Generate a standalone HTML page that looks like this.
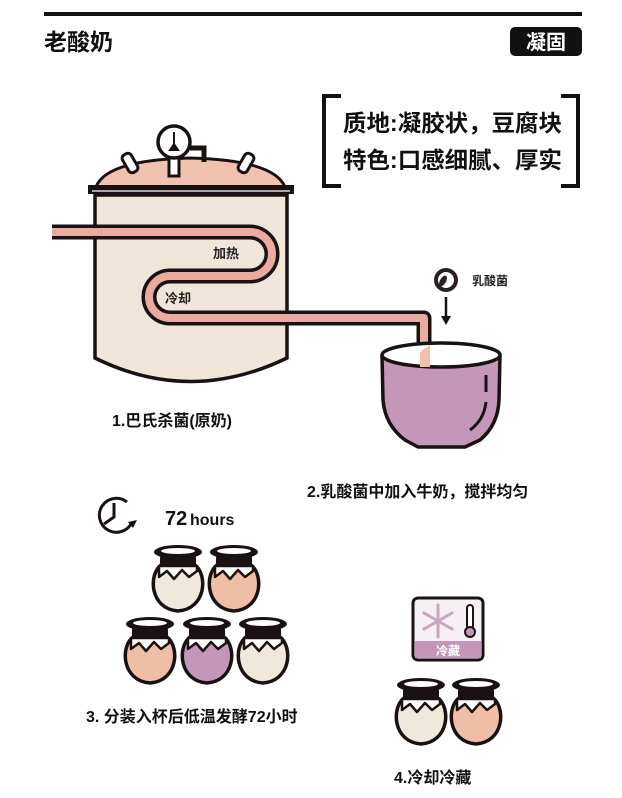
<!DOCTYPE html>
<html><head><meta charset="utf-8"><style>
html,body{margin:0;padding:0;background:#fff;}
svg{display:block;font-family:"Liberation Sans","Noto Sans CJK SC",sans-serif;}
</style></head><body>
<svg width="622" height="798" viewBox="0 0 622 798" xmlns="http://www.w3.org/2000/svg">
<defs>
<g id="jar">
  <path d="M-17,18 C-30,28 -28,62 0,64 C28,62 30,28 17,18 Z" fill="inherit" stroke="#1a1212" stroke-width="3.5"/>
  <path d="M-19,19 L-19,30 L-11,24 L-4,32 L4,23 L11,30 L19,24 L19,19 Z" fill="#fff" stroke="#1a1212" stroke-width="2.5" stroke-linejoin="round"/>
  <rect x="-18" y="7" width="36" height="13" rx="4" fill="#1a1212"/>
  <ellipse cx="0" cy="5" rx="24" ry="7" fill="#1a1212"/>
  <ellipse cx="0" cy="4" rx="17" ry="3" fill="#fff"/>
</g>
</defs>
<rect x="44" y="12" width="538" height="4" fill="#111"/>
<text x="44" y="50" font-size="23" font-weight="bold" fill="#111">老酸奶</text>
<rect x="510" y="27" width="72" height="29" rx="5" fill="#111"/>
<text x="546" y="49" font-size="20" font-weight="bold" fill="#fff" text-anchor="middle">凝固</text>
<path d="M341,96 H324 V186 H341 M561,96 H578 V186 H561" fill="none" stroke="#111" stroke-width="4"/>
<text x="343" y="131" font-size="23" font-weight="bold" fill="#111" textLength="219" lengthAdjust="spacingAndGlyphs">质地:凝胶状，豆腐块</text>
<text x="343" y="168" font-size="23" font-weight="bold" fill="#111" textLength="219" lengthAdjust="spacingAndGlyphs">特色:口感细腻、厚实</text>

<!-- pot -->
<path d="M95,195 V358 Q190,405 287,358 V195 Z" fill="#efe5d8" stroke="#1a1212" stroke-width="3.5"/>
<path d="M96,187 Q106,160 190,158 Q274,160 285,187 Z" fill="#f2c1ae" stroke="#1a1212" stroke-width="3"/>
<rect x="88" y="185" width="206" height="9" fill="#1a1212"/>
<line x1="92" y1="191" x2="290" y2="191" stroke="#fff" stroke-width="1.2"/>
<rect x="125" y="153" width="10" height="20" rx="4" transform="rotate(-30 130 163)" fill="#fff" stroke="#1a1212" stroke-width="3"/>
<rect x="241" y="153" width="10" height="20" rx="4" transform="rotate(30 246 163)" fill="#fff" stroke="#1a1212" stroke-width="3"/>
<rect x="169" y="156" width="10" height="20" fill="#fff" stroke="#1a1212" stroke-width="3"/>
<path d="M190,148 H204 V162" fill="none" stroke="#1a1212" stroke-width="5"/>
<circle cx="174" cy="142" r="16" fill="#fff" stroke="#1a1212" stroke-width="3.5"/>
<path d="M174,132 V146 M170,150 L174,144 L178,150 Z" stroke="#1a1212" stroke-width="2" fill="#1a1212"/>
<path d="M52,232 H250 A22,22 0 0 1 250,276 H170 A21,21 0 0 0 170,318 H424 V362" fill="none" stroke="#1a1212" stroke-width="15" stroke-linejoin="round"/>
<path d="M52,232 H250 A22,22 0 0 1 250,276 H170 A21,21 0 0 0 170,318 H424 V362" fill="none" stroke="#e9aaa0" stroke-width="8" stroke-linejoin="round"/>
<text x="213" y="258" font-size="13" font-weight="bold" fill="#222">加热</text>
<text x="165" y="303" font-size="13" font-weight="bold" fill="#222">冷却</text>
<text x="112" y="426" font-size="16" font-weight="bold" fill="#111">1.巴氏杀菌(原奶)</text>

<!-- bowl -->
<path d="M382,355 L383,400 Q385,425 405,440 L418,447 H465 L480,440 Q498,425 499,400 L500,355 Z" fill="#c497b8" stroke="#1a1212" stroke-width="3.5" stroke-linejoin="round"/>
<ellipse cx="441" cy="355" rx="59" ry="12" fill="#fff" stroke="#1a1212" stroke-width="3.5"/>
<path d="M420,352 V367 H430 V345" fill="#f2c1ae"/>
<path d="M486,375 V392 M486,402 Q484,420 470,430" fill="none" stroke="#1a1212" stroke-width="3"/>
<circle cx="446" cy="280" r="12" fill="#2a2020"/>
<circle cx="446" cy="280" r="8" fill="#fff"/>
<ellipse cx="443" cy="281" rx="3" ry="6" fill="#2a2020" transform="rotate(30 443 281)"/>
<text x="472" y="285" font-size="12" font-weight="bold" fill="#222">乳酸菌</text>
<path d="M446,297 V318" stroke="#1a1212" stroke-width="2.5"/>
<path d="M441,316 L446,325 L451,316 Z" fill="#1a1212"/>
<text x="307" y="497" font-size="16" font-weight="bold" fill="#111">2.乳酸菌中加入牛奶，搅拌均匀</text>

<!-- clock -->
<path d="M127,502 A17,17 0 1 0 132,522" fill="none" stroke="#1a1212" stroke-width="3"/>
<path d="M128,522 L133,528 L137,520 Z" fill="#1a1212"/>
<path d="M114,503 V517 L104,524" fill="none" stroke="#1a1212" stroke-width="3"/>
<text x="165" y="525" font-size="20" font-weight="bold" fill="#111">72</text>
<text x="190" y="525" font-size="16" font-weight="bold" fill="#111">hours</text>

<use href="#jar" transform="translate(178,547)" fill="#efe9dc"/>
<use href="#jar" transform="translate(234,547)" fill="#f0bea6"/>
<use href="#jar" transform="translate(150,619)" fill="#f0bea6"/>
<use href="#jar" transform="translate(207,619)" fill="#c497b8"/>
<use href="#jar" transform="translate(263,619)" fill="#efe9dc"/>
<text x="86" y="722" font-size="16" font-weight="bold" fill="#111">3. 分装入杯后低温发酵72小时</text>

<!-- fridge -->
<rect x="413" y="598" width="70" height="62" rx="5" fill="#f5f0f3" stroke="#1a1212" stroke-width="3"/>
<rect x="415" y="641" width="66" height="17" fill="#c497b8"/>
<text x="448" y="655" font-size="12" fill="#fff" text-anchor="middle" font-weight="bold">冷藏</text>
<g stroke="#c8a6bd" stroke-width="3" stroke-linecap="round">
<line x1="438" y1="605" x2="438" y2="637"/><line x1="424" y1="613" x2="452" y2="629"/><line x1="424" y1="629" x2="452" y2="613"/></g>
<rect x="467" y="605" width="6" height="24" rx="3" fill="#fff" stroke="#1a1212" stroke-width="2"/>
<circle cx="470" cy="632" r="5" fill="#c497b8" stroke="#1a1212" stroke-width="2"/>
<use href="#jar" transform="translate(421,680)" fill="#efe9dc"/>
<use href="#jar" transform="translate(476,680)" fill="#f0bea6"/>
<text x="394" y="783" font-size="16" font-weight="bold" fill="#111">4.冷却冷藏</text>
</svg>
</body></html>
